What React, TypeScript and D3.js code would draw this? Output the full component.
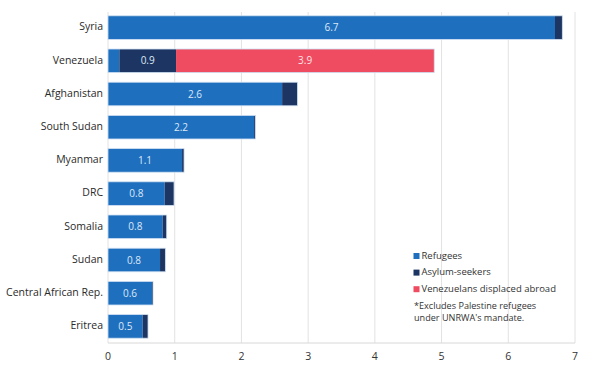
import React from "react";
import * as d3 from "d3";

const categories = ["Syria", "Venezuela", "Afghanistan", "South Sudan", "Myanmar", "DRC", "Somalia", "Sudan", "Central African Rep.", "Eritrea"];
const refugees = [6.7, 0.17, 2.61, 2.19, 1.11, 0.85, 0.82, 0.78, 0.66, 0.52];
const asylumSeekers = [0.11, 0.85, 0.23, 0.02, 0.03, 0.14, 0.06, 0.08, 0.015, 0.08];
const venezuelansAbroad = [0, 3.87, 0, 0, 0, 0, 0, 0, 0, 0];
const labels = ["6.7", "0.9", "2.6", "2.2", "1.1", "0.8", "0.8", "0.8", "0.6", "0.5"];
const venLabel = "3.9";
const xTicks = [0, 1, 2, 3, 4, 5, 6, 7];
const legendItems = ["Refugees", "Asylum-seekers", "Venezuelans displaced abroad"];
const note = ["*Excludes Palestine refugees", "under UNRWA's mandate."];

const COLORS = ["#1f6fbf", "#1c3562", "#ef4b61"];
const FONT = "'Open Sans', Lato, sans-serif";

export default function App() {
  const W = 600, H = 376;
  const x = d3.scaleLinear().domain([0, 7]).range([108, 575]);
  const y = d3.scaleBand<string>().domain(categories).range([11, 343]).paddingInner(0.29).paddingOuter(0.145);
  const top = 12, bottom = 343;
  const bh = y.bandwidth();

  return (
    <svg width={W} height={H} style={{ position: "absolute", left: 0, top: 0, background: "#fff" }} fontFamily={FONT}>
      {xTicks.map((t) => (
        <line key={"g" + t} x1={x(t)} x2={x(t)} y1={top} y2={bottom} stroke="#e2e2e2" strokeWidth={1} />
      ))}
      <line x1={x(0)} x2={x(7)} y1={bottom} y2={bottom} stroke="#d8d8d8" strokeWidth={1} />
      {xTicks.map((t) => (
        <text key={"t" + t} x={x(t)} y={357} textAnchor="middle" dominantBaseline="middle" fontSize={10.5} fill="#333">
          {t}
        </text>
      ))}
      {categories.map((c, i) => {
        const y0 = y(c)!;
        const r0 = x(0), r1 = x(refugees[i]);
        const a1 = x(refugees[i] + asylumSeekers[i]);
        const v1 = x(refugees[i] + asylumSeekers[i] + venezuelansAbroad[i]);
        const cy = y0 + bh / 2;
        return (
          <g key={c}>
            <text x={103} y={cy} textAnchor="end" dominantBaseline="middle" fontSize={10.5} fill="#2a2a2a">
              {c}
            </text>
            <rect x={r0} y={y0} width={r1 - r0} height={bh} fill={COLORS[0]} />
            <rect x={r1} y={y0} width={a1 - r1} height={bh} fill={COLORS[1]} />
            {venezuelansAbroad[i] > 0 && <rect x={a1} y={y0} width={v1 - a1} height={bh} fill={COLORS[2]} />}
            <rect x={r0} y={y0} width={v1 - r0} height={bh} fill="none" stroke="#cfe0f2" strokeWidth={0.8} />
            <text
              x={venezuelansAbroad[i] > 0 ? (r1 + a1) / 2 : (r0 + r1) / 2}
              y={cy + 1}
              textAnchor="middle"
              dominantBaseline="middle"
              fontSize={10}
              fill="#dce8f5"
            >
              {labels[i]}
            </text>
            {venezuelansAbroad[i] > 0 && (
              <text x={(a1 + v1) / 2} y={cy + 1} textAnchor="middle" dominantBaseline="middle" fontSize={10} fill="#fbe3e6">
                {venLabel}
              </text>
            )}
          </g>
        );
      })}
      {legendItems.map((l, i) => (
        <g key={l}>
          <rect x={413.5} y={253 + i * 16.6} width={6} height={6} fill={COLORS[i]} />
          <text x={421.5} y={256.3 + i * 16.6} dominantBaseline="middle" fontSize={9.5} fill="#333">
            {l}
          </text>
        </g>
      ))}
      {note.map((n, i) => (
        <text key={n} x={414} y={306.5 + i * 12} dominantBaseline="middle" fontSize={9.1} fill="#333">
          {n}
        </text>
      ))}
    </svg>
  );
}
